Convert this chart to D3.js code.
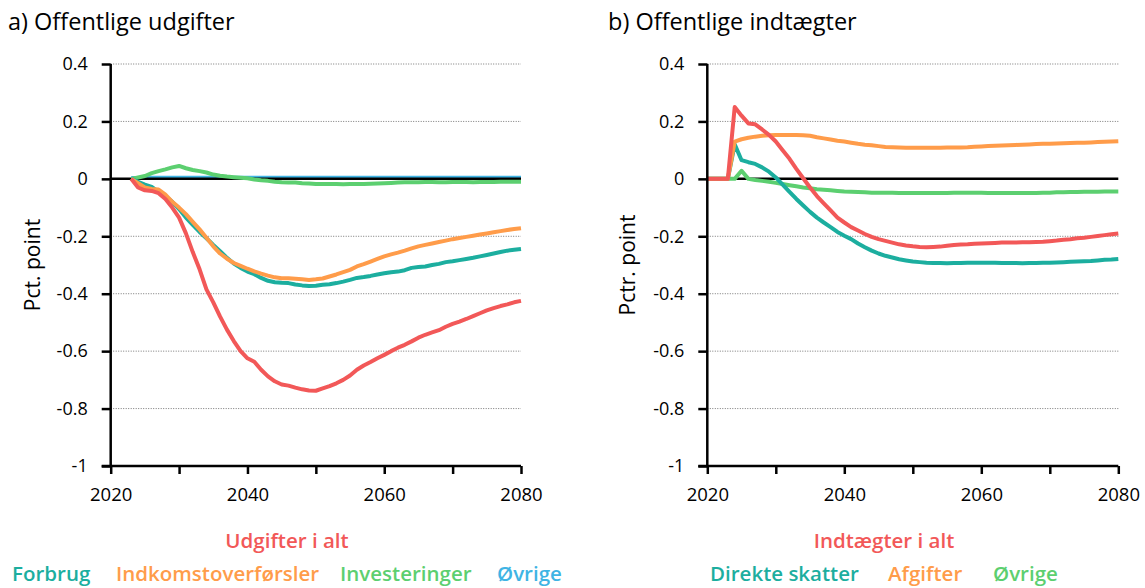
<!DOCTYPE html>
<meta charset="utf-8">
<style>
body { margin: 0; background: #fff; }
svg { font-family: "Open Sans", "Noto Sans", sans-serif; }
.grid line { stroke: #777; stroke-width: 1; stroke-dasharray: 1,1.5; }
.series { fill: none; stroke-width: 4; stroke-linejoin: round; }
</style>
<svg width="1145" height="588"></svg>
<script src="https://cdn.jsdelivr.net/npm/d3@7"></script>
<script>

// years
var yearsA = d3.range(2023, 2081),
    yearsB = d3.range(2020, 2081);

var yTicks = [0.4, 0.2, 0, -0.2, -0.4, -0.6, -0.8, -1],
    yTickLabels = ["0.4", "0.2", "0", "-0.2", "-0.4", "-0.6", "-0.8", "-1"],
    xMinor = [2020, 2030, 2040, 2050, 2060, 2070, 2080],
    xLabels = [2020, 2040, 2060, 2080];

// a) Offentlige udgifter, 2023-2080
var udgifterIAlt = [0, -0.03, -0.04, -0.042, -0.05, -0.07, -0.1, -0.135, -0.19, -0.255,
  -0.315, -0.385, -0.43, -0.48, -0.525, -0.565, -0.6, -0.625, -0.637, -0.665,
  -0.688, -0.705, -0.716, -0.72, -0.727, -0.733, -0.737, -0.738, -0.73, -0.722,
  -0.712, -0.7, -0.685, -0.665, -0.65, -0.638, -0.625, -0.613, -0.6, -0.588,
  -0.578, -0.566, -0.553, -0.543, -0.535, -0.527, -0.515, -0.505, -0.497, -0.488,
  -0.478, -0.468, -0.458, -0.45, -0.443, -0.437, -0.43, -0.425];
var forbrug = [0, -0.01, -0.02, -0.028, -0.045, -0.06, -0.08, -0.105, -0.135, -0.16,
  -0.185, -0.207, -0.23, -0.252, -0.275, -0.295, -0.31, -0.323, -0.332, -0.345,
  -0.355, -0.36, -0.362, -0.363, -0.368, -0.371, -0.373, -0.372, -0.369, -0.367,
  -0.363, -0.358, -0.352, -0.345, -0.342, -0.338, -0.333, -0.329, -0.325, -0.323,
  -0.318, -0.31, -0.307, -0.305, -0.3, -0.296, -0.29, -0.287, -0.283, -0.279,
  -0.275, -0.27, -0.265, -0.26, -0.255, -0.25, -0.247, -0.244];
var indkomst = [0, -0.015, -0.03, -0.035, -0.037, -0.055, -0.08, -0.1, -0.123, -0.15,
  -0.176, -0.205, -0.235, -0.26, -0.278, -0.293, -0.303, -0.313, -0.322, -0.33,
  -0.337, -0.343, -0.346, -0.346, -0.348, -0.35, -0.352, -0.35, -0.347, -0.34,
  -0.333, -0.325, -0.317, -0.305, -0.297, -0.288, -0.279, -0.27, -0.263, -0.257,
  -0.25, -0.242, -0.235, -0.23, -0.225, -0.22, -0.215, -0.21, -0.206, -0.202,
  -0.198, -0.194, -0.19, -0.186, -0.182, -0.178, -0.175, -0.172];
var investeringer = [0, 0.005, 0.01, 0.02, 0.027, 0.033, 0.04, 0.045, 0.037, 0.031,
  0.027, 0.022, 0.015, 0.011, 0.008, 0.006, 0.004, 0.002, -0.002, -0.005,
  -0.007, -0.01, -0.012, -0.013, -0.013, -0.015, -0.016, -0.018, -0.018, -0.018,
  -0.018, -0.019, -0.018, -0.018, -0.018, -0.017, -0.016, -0.015, -0.014, -0.013,
  -0.012, -0.012, -0.012, -0.011, -0.011, -0.012, -0.012, -0.011, -0.011, -0.011,
  -0.012, -0.011, -0.011, -0.011, -0.01, -0.01, -0.01, -0.01];
var ovrigeA = [0.003, 0.003, 0.003, 0.004, 0.004, 0.004, 0.004, 0.004, 0.004, 0.004,
  0.004, 0.004, 0.004, 0.004, 0.004, 0.004, 0.004, 0.004, 0.004, 0.004,
  0.004, 0.004, 0.004, 0.004, 0.004, 0.004, 0.004, 0.004, 0.004, 0.004,
  0.004, 0.004, 0.004, 0.004, 0.004, 0.004, 0.004, 0.004, 0.004, 0.004,
  0.004, 0.004, 0.004, 0.004, 0.004, 0.004, 0.004, 0.004, 0.004, 0.004,
  0.004, 0.004, 0.004, 0.004, 0.004, 0.004, 0.004, 0.004];

// b) Offentlige indtaegter, 2020-2080
var indtaegterIAlt = [0, 0, 0, 0, 0.25, 0.22, 0.193, 0.19, 0.172, 0.153,
  0.13, 0.1, 0.07, 0.035, 0.002, -0.03, -0.06, -0.085, -0.11, -0.135,
  -0.152, -0.168, -0.18, -0.192, -0.202, -0.21, -0.216, -0.222, -0.228, -0.232,
  -0.235, -0.237, -0.238, -0.237, -0.236, -0.233, -0.23, -0.229, -0.228, -0.226,
  -0.225, -0.224, -0.223, -0.222, -0.222, -0.222, -0.221, -0.221, -0.22, -0.219,
  -0.217, -0.215, -0.212, -0.21, -0.207, -0.205, -0.202, -0.199, -0.196, -0.193, -0.19];
var direkteSkatter = [0, 0, 0, 0, 0.12, 0.065, 0.058, 0.052, 0.04, 0.025,
  0.005, -0.02, -0.045, -0.07, -0.093, -0.115, -0.135, -0.152, -0.168, -0.185,
  -0.198, -0.21, -0.225, -0.238, -0.25, -0.26, -0.268, -0.274, -0.28, -0.284,
  -0.288, -0.29, -0.292, -0.293, -0.293, -0.294, -0.293, -0.293, -0.292, -0.292,
  -0.292, -0.292, -0.292, -0.293, -0.293, -0.293, -0.294, -0.293, -0.293, -0.292,
  -0.292, -0.291, -0.29, -0.289, -0.288, -0.287, -0.286, -0.284, -0.282, -0.281, -0.279];
var afgifter = [0, 0, 0, 0, 0.13, 0.138, 0.143, 0.147, 0.15, 0.152,
  0.153, 0.153, 0.153, 0.153, 0.152, 0.15, 0.145, 0.141, 0.137, 0.133,
  0.13, 0.126, 0.122, 0.119, 0.117, 0.114, 0.111, 0.11, 0.109, 0.108,
  0.108, 0.108, 0.108, 0.108, 0.108, 0.109, 0.109, 0.109, 0.11, 0.112,
  0.113, 0.114, 0.115, 0.116, 0.117, 0.118, 0.119, 0.12, 0.121, 0.122,
  0.122, 0.123, 0.124, 0.125, 0.126, 0.126, 0.127, 0.128, 0.129, 0.13, 0.131];
var ovrigeB = [0, 0, 0, 0, 0, 0.028, 0, -0.004, -0.007, -0.01,
  -0.014, -0.018, -0.022, -0.026, -0.03, -0.033, -0.036, -0.038, -0.04, -0.042,
  -0.044, -0.045, -0.046, -0.047, -0.048, -0.048, -0.048, -0.048, -0.049, -0.049,
  -0.049, -0.049, -0.049, -0.049, -0.049, -0.049, -0.048, -0.048, -0.048, -0.048,
  -0.048, -0.049, -0.049, -0.049, -0.049, -0.049, -0.049, -0.049, -0.049, -0.048,
  -0.048, -0.047, -0.047, -0.046, -0.046, -0.045, -0.045, -0.045, -0.044, -0.044, -0.044];

var red = "#f25858", orange = "#ff9c4a", teal = "#1cae9f", green = "#5ccf70", blue = "#3fb4e4";

var svg = d3.select("svg");

var y = d3.scaleLinear().domain([-1, 0.4]).range([466, 64]);

function drawPanel(p) {
  var x = d3.scaleLinear().domain([2020, 2080]).range([p.left, p.right]);
  var g = svg.append("g");

  g.append("text")
      .attr("x", p.titleX).attr("y", 30)
      .attr("font-size", 23.5)
      .text(p.title);

  // dotted grid
  g.append("g").attr("class", "grid")
    .selectAll("line")
    .data(yTicks.filter(function(d) { return d !== 0 && d !== -1; }))
    .enter().append("line")
      .attr("x1", p.left).attr("x2", p.right)
      .attr("y1", function(d) { return y(d); })
      .attr("y2", function(d) { return y(d); });

  var line = d3.line()
      .x(function(d) { return x(d[0]); })
      .y(function(d) { return y(d[1]); });

  function drawSeries(s) {
    g.append("path")
        .attr("class", "series")
        .attr("stroke", s.color)
        .attr("d", line(s.years.map(function(yr, i) { return [yr, s.values[i]]; })));
  }

  p.series.filter(function(s) { return s.under; }).forEach(drawSeries);

  // zero line
  g.append("line")
      .attr("x1", p.left).attr("x2", p.right)
      .attr("y1", y(0)).attr("y2", y(0))
      .attr("stroke", "#000").attr("stroke-width", 2.5);

  p.series.filter(function(s) { return !s.under; }).forEach(drawSeries);

  // y axis
  var yAxis = g.append("g")
      .attr("transform", "translate(" + p.left + ",0)")
      .call(d3.axisLeft(y).tickValues(yTicks)
        .tickFormat(function(d, i) { return yTickLabels[i]; })
        .tickSize(9).tickPadding(14));
  yAxis.select(".domain").attr("stroke-width", 2.5).attr("d", "M0," + y(0.4) + "V" + y(-1));
  yAxis.selectAll(".tick line").attr("stroke-width", 2.5);
  yAxis.selectAll("text").attr("font-size", 18).attr("font-family", "Open Sans").attr("fill", "#000");

  // x axis
  var xAxis = g.append("g")
      .attr("transform", "translate(0," + y(-1) + ")")
      .call(d3.axisBottom(x).tickValues(xMinor)
        .tickFormat(function(d) { return xLabels.indexOf(d) >= 0 ? d : ""; })
        .tickSize(8).tickPadding(14));
  xAxis.select(".domain").attr("stroke-width", 2.5).attr("d", "M" + (p.left - 9) + ",0H" + p.right);
  xAxis.selectAll(".tick line").attr("stroke-width", 2.5);
  xAxis.selectAll("text").attr("font-size", 18.5).attr("font-family", "Open Sans").attr("fill", "#000");

  // y axis title
  g.append("text")
      .attr("transform", "translate(" + p.yTitleX + ",265) rotate(-90)")
      .attr("text-anchor", "middle")
      .attr("font-size", 21)
      .text(p.yTitle);

  // legend
  g.append("text")
      .attr("x", p.totalX).attr("y", 548)
      .attr("text-anchor", "middle")
      .attr("font-size", 20.5).attr("font-weight", 600)
      .attr("fill", red)
      .text(p.totalLabel);

  g.selectAll(".leg")
    .data(p.legend)
    .enter().append("text")
      .attr("x", function(d) { return d.x; })
      .attr("y", 581)
      .attr("font-size", 20.5).attr("font-weight", 600)
      .attr("fill", function(d) { return d.color; })
      .text(function(d) { return d.label; });
}

drawPanel({
  left: 110.7, right: 521, titleX: 8, title: "a) Offentlige udgifter",
  yTitle: "Pct. point", yTitleX: 40, totalX: 287, totalLabel: "Udgifter i alt",
  series: [
    { years: yearsA, values: ovrigeA, color: blue, under: true },
    { years: yearsA, values: investeringer, color: green },
    { years: yearsA, values: forbrug, color: teal },
    { years: yearsA, values: indkomst, color: orange },
    { years: yearsA, values: udgifterIAlt, color: red }
  ],
  legend: [
    { label: "Forbrug", color: teal, x: 12 },
    { label: "Indkomstoverførsler", color: orange, x: 116 },
    { label: "Investeringer", color: green, x: 340 },
    { label: "Øvrige", color: blue, x: 497 }
  ]
});

drawPanel({
  left: 707.3, right: 1118.3, titleX: 608, title: "b) Offentlige indtægter",
  yTitle: "Pctr. point", yTitleX: 635, totalX: 884, totalLabel: "Indtægter i alt",
  series: [
    { years: yearsB, values: ovrigeB, color: green },
    { years: yearsB, values: direkteSkatter, color: teal },
    { years: yearsB, values: afgifter, color: orange },
    { years: yearsB, values: indtaegterIAlt, color: red }
  ],
  legend: [
    { label: "Direkte skatter", color: teal, x: 710 },
    { label: "Afgifter", color: orange, x: 888 },
    { label: "Øvrige", color: green, x: 993 }
  ]
});

</script>
